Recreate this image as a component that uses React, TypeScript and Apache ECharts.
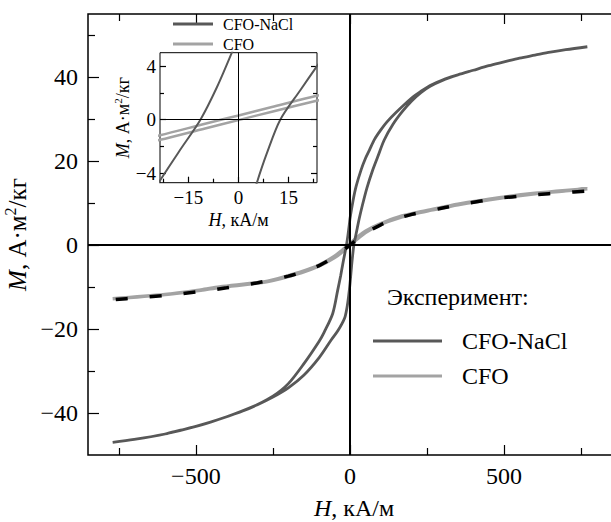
import React, { useEffect, useRef } from "react";
import * as echarts from "echarts";

// ---- Data ----
// CFO-NaCl, ascending branch (H in kA/m, M in A·m²/kg)
const naclLowH = [-770, -700, -600, -500, -400, -300, -250, -200, -150, -100, -60, -40, -18, -10, -5, 0, 5.5, 8.5, 12.5, 18.5, 23.5, 30, 40, 55, 74, 90, 111, 140, 170, 200, 230, 260, 300, 350, 400, 450, 500, 550, 600, 650, 700, 770];
const naclLowM = [-47.0, -46.3, -45.0, -43.2, -40.9, -38.0, -36.2, -34.0, -31.0, -26.8, -22.5, -20.5, -17.5, -15.0, -12.5, -9.2, -4.7, -2.5, 0, 2.2, 4.0, 6.3, 9.4, 13.6, 17.9, 21.0, 25.0, 28.8, 31.8, 34.3, 36.3, 37.8, 39.2, 40.5, 41.6, 42.7, 43.6, 44.5, 45.2, 45.9, 46.5, 47.2];
// CFO-NaCl, descending branch
const naclUpH = [770, 700, 650, 600, 550, 500, 450, 400, 350, 300, 260, 230, 200, 150, 120, 100, 80, 63, 50, 36, 20, 10, 0, -2, -6.5, -11.4, -17.6, -23.4, -30, -40, -56, -84, -100, -150, -200, -250, -300, -350, -400, -450, -500, -550, -600, -700, -770];
const naclUpM = [47.2, 46.5, 45.9, 45.2, 44.5, 43.6, 42.7, 41.6, 40.5, 39.3, 38.0, 36.6, 35.0, 31.6, 29.3, 27.4, 25.2, 22.6, 20.6, 17.9, 14.0, 10.6, 6.3, 5.0, 2.4, 0, -2.3, -4.5, -7.2, -10.8, -16.3, -20.8, -22.9, -28.3, -33.0, -36.0, -38.0, -39.6, -40.9, -42.1, -43.2, -44.1, -45.0, -46.3, -47.0];
// CFO, ascending branch
const cfoLowH = [-770, -600, -484, -424, -267, -159, -100, -50, -23.5, -10, 0, 10, 23.7, 50, 100, 159, 230, 263, 350, 490, 600, 700, 770];
const cfoLowM = [-12.8, -11.8, -10.8, -10.1, -8.7, -6.6, -5.0, -3.0, -1.5, -0.65, -0.03, 0.6, 1.44, 3.0, 4.95, 6.5, 7.8, 8.3, 9.6, 11.2, 12.2, 12.9, 13.4];
// CFO, descending branch
const cfoUpH = [770, 700, 600, 490, 350, 263, 230, 159, 100, 50, 23.7, 10, 0, -10, -23.5, -50, -100, -159, -267, -424, -484, -600, -770];
const cfoUpM = [13.4, 13.0, 12.3, 11.3, 9.7, 8.4, 7.9, 6.7, 5.1, 3.3, 1.8, 0.95, 0.32, -0.3, -1.16, -2.7, -4.8, -6.4, -8.6, -10.0, -10.7, -11.8, -12.8];
// Fit curve for CFO (dashed)
const fitH = [-760, -700, -600, -500, -400, -300, -200, -150, -100, -50, 0, 50, 100, 150, 200, 250, 300, 370, 480, 590, 700, 760];
const fitM = [-13.0, -12.6, -12.0, -11.2, -10.2, -9.0, -7.4, -6.3, -4.9, -2.8, 0, 2.8, 4.8, 6.2, 7.3, 8.0, 8.8, 9.8, 11.1, 11.9, 12.5, 12.8];

// Ticks
const mainXMajor = [-500, 0, 500];
const mainXMinor = [-750, -250, 250, 750];
const mainYMajor = [-40, -20, 0, 20, 40];
const mainYMinor = [-30, -10, 10, 30, 50];
const insetXMajor = [-15, 0, 15];
const insetXMinor = [-22.5, -7.5, 7.5, 22.5];
const insetYMajor = [-4, 0, 4];
const insetYMinor = [-2, 2];

const seriesNames = ["CFO-NaCl", "CFO"];
const legendTitle = "Эксперимент:";

const FONT = "'Liberation Serif', 'Times New Roman', serif";
const DARK = "#585858";
const LIGHT = "#a3a3a3";

const pairs = (h: number[], m: number[]) => h.map((v, i) => [v, m[i]]);
const fmt = (v: number) => (v < 0 ? "\u2212" + Math.abs(v) : String(v));

function tickAxis(opts: any) {
  const { gridIndex, min, max, position, values, length, labels, fontSize, margin, name, nameGap, nameSize, namePad } = opts;
  const ax: any = {
    type: "value",
    gridIndex,
    min,
    max,
    position,
    axisLine: { show: false, onZero: false },
    splitLine: { show: false },
    axisTick: {
      show: true,
      inside: true,
      length,
      customValues: values,
      lineStyle: { color: "#000", width: 1.2 },
    },
    axisLabel: labels
      ? {
          show: true,
          customValues: values,
          formatter: fmt,
          fontFamily: FONT,
          fontSize,
          color: "#000",
          margin,
        }
      : { show: false },
  };
  if (name) {
    ax.name = name;
    ax.nameLocation = "middle";
    ax.nameGap = nameGap;
    ax.nameTextStyle = {
      fontFamily: FONT,
      fontSize: nameSize,
      color: "#000",
      padding: namePad || 0,
      rich: {
        i: { fontStyle: "italic", fontFamily: FONT, fontSize: nameSize, color: "#000" },
        t: { fontFamily: FONT, fontSize: nameSize, color: "#000" },
        s: { fontFamily: FONT, fontSize: Math.round(nameSize * 0.62), color: "#000", padding: [0, 0, Math.round(nameSize * 0.5), 0] },
      },
    };
  }
  return ax;
}

export default function App() {
  const ref = useRef<HTMLDivElement>(null);
  useEffect(() => {
    if (!ref.current) return;
    const chart = echarts.init(ref.current, undefined, { renderer: "svg" });
    const MX = { min: -850, max: 850 };
    const MY = { min: -50, max: 55 };
    const IX = { min: -23.5, max: 23.5 };
    const IY = { min: -4.7, max: 5 };
    const SM = 0.3;
    const option: any = {
      animation: false,
      backgroundColor: "#fff",
      grid: [
        { left: 88, top: 14, width: 524, height: 441, show: true, borderColor: "#000", borderWidth: 1.5, backgroundColor: "transparent", containLabel: false, outerBoundsMode: "none" },
        { left: 160, top: 52.7, width: 157, height: 130, show: true, borderColor: "#000", borderWidth: 1, backgroundColor: "#fff", containLabel: false, outerBoundsMode: "none" },
      ],
      xAxis: [
        tickAxis({ gridIndex: 0, ...MX, position: "bottom", values: mainXMajor, length: 10, labels: true, fontSize: 24, margin: 9, name: "{i|H}{t|, кА/м}", nameGap: 41, nameSize: 24, namePad: [0, 0, 0, 8] }),
        tickAxis({ gridIndex: 0, ...MX, position: "bottom", values: mainXMinor, length: 7 }),
        tickAxis({ gridIndex: 0, ...MX, position: "top", values: mainXMajor, length: 10 }),
        tickAxis({ gridIndex: 0, ...MX, position: "top", values: mainXMinor, length: 7 }),
        tickAxis({ gridIndex: 1, ...IX, position: "bottom", values: insetXMajor, length: 6, labels: true, fontSize: 19, margin: 5, name: "{i|H}{t|, кА/м}", nameGap: 28, nameSize: 18 }),
        tickAxis({ gridIndex: 1, ...IX, position: "bottom", values: insetXMinor, length: 4 }),
      ],
      yAxis: [
        tickAxis({ gridIndex: 0, ...MY, position: "left", values: mainYMajor, length: 11, labels: true, fontSize: 24, margin: 10, name: "{i|M}{t|, А·м}{s|2}{t|/кг}", nameGap: 48, nameSize: 25 }),
        tickAxis({ gridIndex: 0, ...MY, position: "left", values: mainYMinor, length: 7 }),
        tickAxis({ gridIndex: 1, ...IY, position: "left", values: insetYMajor, length: 6, labels: true, fontSize: 19, margin: 4, name: "{i|M}{t|, А·м}{s|2}{t|/кг}", nameGap: 18, nameSize: 18 }),
        tickAxis({ gridIndex: 1, ...IY, position: "left", values: insetYMinor, length: 4 }),
        tickAxis({ gridIndex: 1, ...IY, position: "right", values: insetYMajor, length: 6 }),
        tickAxis({ gridIndex: 1, ...IY, position: "right", values: insetYMinor, length: 4 }),
      ],
      legend: [
        {
          data: seriesNames,
          orient: "vertical",
          left: 368,
          top: 324,
          itemWidth: 69,
          itemHeight: 3,
          itemGap: 11,
          icon: "rect",
          selectedMode: false,
          textStyle: { fontFamily: FONT, fontSize: 24, color: "#000", padding: [0, 0, 0, 15] },
        },
        {
          data: seriesNames,
          orient: "vertical",
          left: 168,
          top: 11,
          itemWidth: 40,
          itemHeight: 3,
          itemGap: 4,
          icon: "rect",
          selectedMode: false,
          textStyle: { fontFamily: FONT, fontSize: 16, color: "#000", padding: [0, 0, 0, 5] },
        },
      ],
      graphic: [
        {
          type: "text",
          left: 387,
          top: 285,
          style: { text: legendTitle, font: `24px ${FONT}`, fill: "#000" },
        },
      ],
      series: [
        {
          name: "CFO-NaCl",
          type: "line",
          xAxisIndex: 0,
          yAxisIndex: 0,
          data: pairs(naclLowH, naclLowM).concat(pairs(naclUpH, naclUpM)),
          smooth: SM,
          showSymbol: false,
          symbol: "none",
          color: DARK,
          itemStyle: { color: DARK },
          lineStyle: { color: DARK, width: 2.8 },
          z: 3,
          markLine: {
            silent: true,
            symbol: ["none", "none"],
            label: { show: false },
            lineStyle: { color: "#000", width: 2, type: "solid" },
            data: [{ xAxis: 0 }, { yAxis: 0 }],
          },
        },
        {
          name: "CFO",
          type: "line",
          xAxisIndex: 0,
          yAxisIndex: 0,
          data: pairs(cfoLowH, cfoLowM).concat(pairs(cfoUpH, cfoUpM)),
          smooth: SM,
          showSymbol: false,
          symbol: "none",
          color: LIGHT,
          itemStyle: { color: LIGHT },
          lineStyle: { color: LIGHT, width: 3.5 },
          z: 2,
        },
        {
          name: "fit",
          type: "line",
          xAxisIndex: 0,
          yAxisIndex: 0,
          data: pairs(fitH, fitM),
          smooth: SM,
          showSymbol: false,
          symbol: "none",
          color: "#000",
          lineStyle: { color: "#000", width: 3.5, type: [12, 22] },
          z: 4,
        },
        {
          name: "CFO-NaCl",
          type: "line",
          xAxisIndex: 4,
          yAxisIndex: 2,
          data: pairs(naclLowH, naclLowM).concat(pairs(naclUpH, naclUpM)),
          smooth: SM,
          showSymbol: false,
          symbol: "none",
          clip: true,
          color: DARK,
          itemStyle: { color: DARK },
          lineStyle: { color: DARK, width: 2 },
          z: 3,
          markLine: {
            silent: true,
            symbol: ["none", "none"],
            label: { show: false },
            lineStyle: { color: "#000", width: 1, type: "solid" },
            data: [{ xAxis: 0 }, { yAxis: 0 }],
          },
        },
        {
          name: "CFO",
          type: "line",
          xAxisIndex: 4,
          yAxisIndex: 2,
          data: pairs(cfoLowH, cfoLowM).concat(pairs(cfoUpH, cfoUpM)),
          smooth: SM,
          showSymbol: false,
          symbol: "none",
          clip: true,
          color: LIGHT,
          itemStyle: { color: LIGHT },
          lineStyle: { color: LIGHT, width: 2.5 },
          z: 2,
        },
      ],
    };
    chart.setOption(option);
    return () => chart.dispose();
  }, []);
  return (
    <div
      ref={ref}
      style={{ position: "absolute", left: 0, top: 0, width: 611, height: 522, background: "#fff" }}
    />
  );
}
